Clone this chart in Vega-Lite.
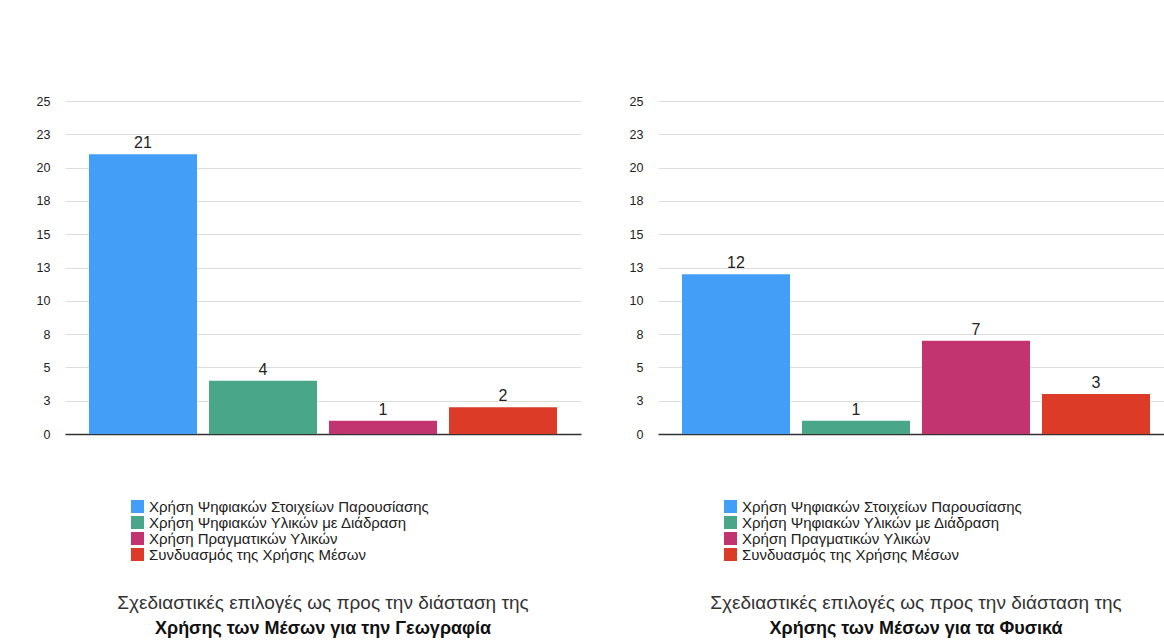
{
  "$schema": "https://vega.github.io/schema/vega-lite/v6.json",
  "padding": {"left": 36, "top": 95, "right": 0, "bottom": 0},
  "background": "white",
  "datasets": {
    "d": [
      {"subject": "Γεωγραφία", "category": "Χρήση Ψηφιακών Στοιχείων Παρουσίασης", "value": 21},
      {"subject": "Γεωγραφία", "category": "Χρήση Ψηφιακών Υλικών με Διάδραση", "value": 4},
      {"subject": "Γεωγραφία", "category": "Χρήση Πραγματικών  Υλικών", "value": 1},
      {"subject": "Γεωγραφία", "category": "Συνδυασμός της Χρήσης Μέσων", "value": 2},
      {"subject": "Φυσικά", "category": "Χρήση Ψηφιακών Στοιχείων Παρουσίασης", "value": 12},
      {"subject": "Φυσικά", "category": "Χρήση Ψηφιακών Υλικών με Διάδραση", "value": 1},
      {"subject": "Φυσικά", "category": "Χρήση Πραγματικών  Υλικών", "value": 7},
      {"subject": "Φυσικά", "category": "Συνδυασμός της Χρήσης Μέσων", "value": 3}
    ]
  },
  "bounds": "flush",
  "spacing": 77,
  "resolve": {"legend": {"color": "independent"}},
  "config": {
    "font": "Liberation Sans",
    "view": {"stroke": null},
    "title": {"font": "Liberation Sans", "fontSize": 19, "fontWeight": "normal", "color": "#333333", "subtitleFont": "Liberation Sans", "subtitleFontSize": 18, "subtitleFontWeight": "bold", "subtitleColor": "#111111", "subtitlePadding": 7, "orient": "bottom", "anchor": "middle", "offset": 31}
  },
  "hconcat": [
    {
      "width": 516,
      "height": 333,
      "title": {"text": "Σχεδιαστικές επιλογές ως προς την διάσταση της", "subtitle": "Χρήσης των Μέσων  για την Γεωγραφία"},
      "data": {"name": "d"},
      "transform": [{"filter": "datum.subject === 'Γεωγραφία'"}],
      "encoding": {
        "x": {"field": "category", "type": "nominal", "sort": null, "scale": {"paddingInner": 0.1, "paddingOuter": 0.2}, "axis": {"labels": false, "ticks": false, "title": null, "domainColor": "#333333", "domainWidth": 1.5}},
        "y": {"field": "value", "type": "quantitative", "scale": {"domain": [0, 25]}, "axis": {"values": [0, 2.5, 5, 7.5, 10, 12.5, 15, 17.5, 20, 22.5, 25], "format": ".0f", "title": null, "domain": false, "ticks": false, "tickSize": 0, "labelPadding": 15, "labelFontSize": 12.5, "labelColor": "#222222", "gridColor": "#dddddd", "labelFont": "Liberation Sans"}}
      },
      "layer": [
        {
          "mark": {"type": "bar"},
          "encoding": {
            "color": {"field": "category", "type": "nominal", "sort": null,
              "scale": {"domain": ["Χρήση Ψηφιακών Στοιχείων Παρουσίασης", "Χρήση Ψηφιακών Υλικών με Διάδραση", "Χρήση Πραγματικών  Υλικών", "Συνδυασμός της Χρήσης Μέσων"], "range": ["#429ef6", "#4aa689", "#c2346f", "#db3b27"]},
              "legend": {"orient": "none", "legendX": 65, "legendY": 398, "direction": "vertical", "title": null, "symbolType": "square", "symbolSize": 169, "symbolStrokeWidth": 0, "labelFontSize": 15, "labelColor": "#222222", "labelFont": "Liberation Sans", "labelLimit": 500, "rowPadding": -1, "labelOffset": 4}}
          }
        },
        {
          "mark": {"type": "text", "baseline": "bottom", "dy": -3, "fontSize": 16, "color": "#222222"},
          "encoding": {"text": {"field": "value", "type": "quantitative"}}
        }
      ]
    },
    {
      "width": 516,
      "height": 333,
      "title": {"text": "Σχεδιαστικές επιλογές ως προς την διάσταση της", "subtitle": "Χρήσης των Μέσων  για τα Φυσικά"},
      "data": {"name": "d"},
      "transform": [{"filter": "datum.subject === 'Φυσικά'"}],
      "encoding": {
        "x": {"field": "category", "type": "nominal", "sort": null, "scale": {"paddingInner": 0.1, "paddingOuter": 0.2}, "axis": {"labels": false, "ticks": false, "title": null, "domainColor": "#333333", "domainWidth": 1.5}},
        "y": {"field": "value", "type": "quantitative", "scale": {"domain": [0, 25]}, "axis": {"values": [0, 2.5, 5, 7.5, 10, 12.5, 15, 17.5, 20, 22.5, 25], "format": ".0f", "title": null, "domain": false, "ticks": false, "tickSize": 0, "labelPadding": 15, "labelFontSize": 12.5, "labelColor": "#222222", "gridColor": "#dddddd", "labelFont": "Liberation Sans"}}
      },
      "layer": [
        {
          "mark": {"type": "bar"},
          "encoding": {
            "color": {"field": "category", "type": "nominal", "sort": null,
              "scale": {"domain": ["Χρήση Ψηφιακών Στοιχείων Παρουσίασης", "Χρήση Ψηφιακών Υλικών με Διάδραση", "Χρήση Πραγματικών  Υλικών", "Συνδυασμός της Χρήσης Μέσων"], "range": ["#429ef6", "#4aa689", "#c2346f", "#db3b27"]},
              "legend": {"orient": "none", "legendX": 65, "legendY": 398, "direction": "vertical", "title": null, "symbolType": "square", "symbolSize": 169, "symbolStrokeWidth": 0, "labelFontSize": 15, "labelColor": "#222222", "labelFont": "Liberation Sans", "labelLimit": 500, "rowPadding": -1, "labelOffset": 4}}
          }
        },
        {
          "mark": {"type": "text", "baseline": "bottom", "dy": -3, "fontSize": 16, "color": "#222222"},
          "encoding": {"text": {"field": "value", "type": "quantitative"}}
        }
      ]
    }
  ]
}
